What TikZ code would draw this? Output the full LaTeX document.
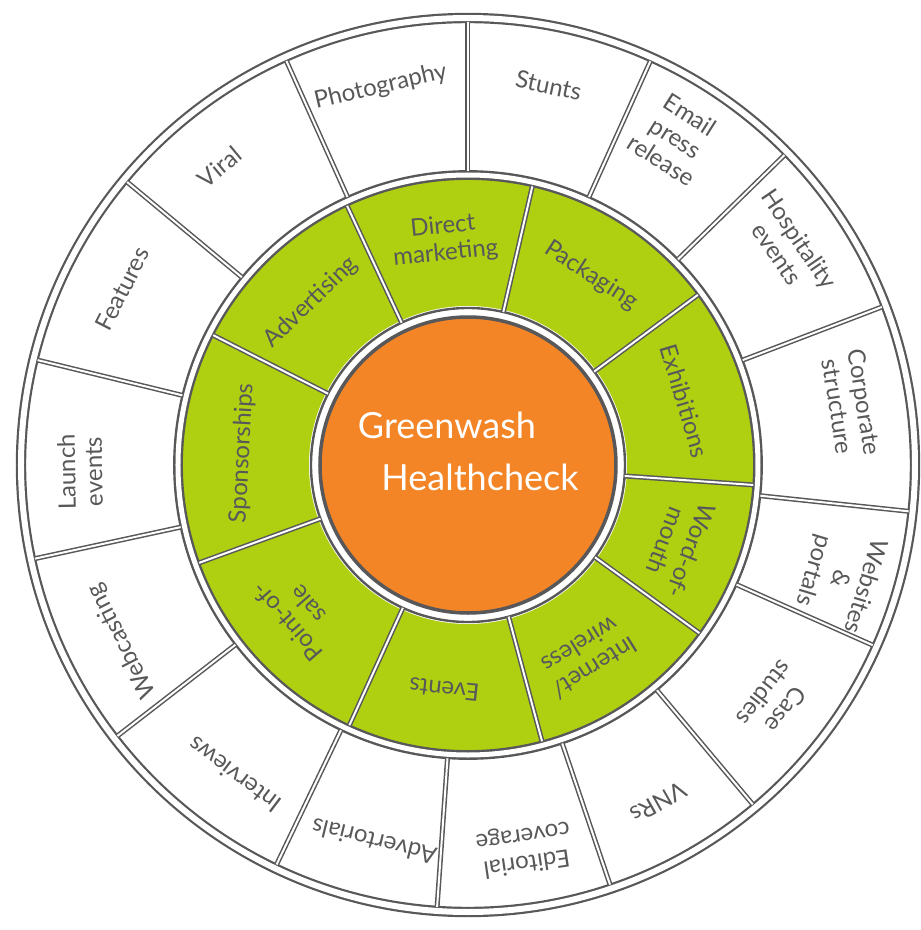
\documentclass[tikz,border=0pt]{standalone}
\usepackage{fontspec}
\setmainfont{Lato}
\usepackage{xcolor}
\definecolor{washorange}{HTML}{F38526}
\definecolor{washgreen}{HTML}{AFCF11}
\definecolor{inkgrey}{HTML}{58585A}

\begin{document}
\begin{tikzpicture}[x=1pt, y=1pt,
    ink/.style={draw=inkgrey, line width=2.4pt},
    twoline/.style={draw=inkgrey, double=white, line width=1.5pt, double distance=2pt},
    ringlabel/.style={text=inkgrey, font=\fontsize{24}{27}\selectfont, align=center, inner sep=0pt},
    hubtext/.style={text=white, font=\fontsize{36}{40}\selectfont, inner sep=0pt}]
  \useasboundingbox (-468,-465) rectangle (453,465);
  \coordinate (hub) at (0,0);
  % rings
  \fill[washgreen] (hub) circle (288);
  \fill[white] (hub) circle (159);
  \draw[ink] (hub) circle (157);
  \draw[ink, fill=washorange, line width=3.5pt] (hub) circle (148);
  \draw[twoline, double distance=5pt, line width=2.4pt] (hub) circle (290);
  \draw[twoline, double distance=6pt, line width=2.2pt] (hub) circle (447);
  % dividers
  \foreach \a in {115,77,36.5,-4,-36,-75,-114.5,-160,153}
    \draw[twoline] (\a:157) -- (\a:286);
  \foreach \a in {90,65.7,44.4,20.9,-6,-24,-50,-71.3,-94,-115.6,-142.3,-167.8,166.3,140.3,114.2}
    \draw[twoline] (\a:294) -- (\a:443);
  % labels
  \foreach \a/\t [count=\i] in {134/Advertising, 96/{Direct\\marketing}, 57/Packaging,
      16.5/Exhibitions, -21/{Word-of-\\mouth}, -58/{Internet/\\wireless}, -96/Events,
      -139/{Point-of-\\sale}, 177/Sponsorships}
    \node[ringlabel, rotate=\a-90] (mid\i) at (\a:226) {\t};
  \foreach \a/\t [count=\i] in {103/Photography, 78/Stunts, 57.6/{Email\\press\\release},
      34.3/{Hospitality\\events}, 9/{Corporate\\structure}, -17/{Websites\\\&\\portals},
      -37.6/{Case\\studies}, -60.5/VNRs, -81.6/{Editorial\\coverage}, -104/Advertorials,
      -127/Interviews, -153/Webcasting, -179/{Launch\\events}, 153/Features, 129.8/Viral}
    \node[ringlabel, rotate=\a-90] (out\i) at (\a:388) {\t};
  \node[hubtext] (greenwash) at (-21,40) {Greenwash};
  \node[hubtext] (healthcheck) at (12,-12) {Healthcheck};
\end{tikzpicture}
\end{document}
